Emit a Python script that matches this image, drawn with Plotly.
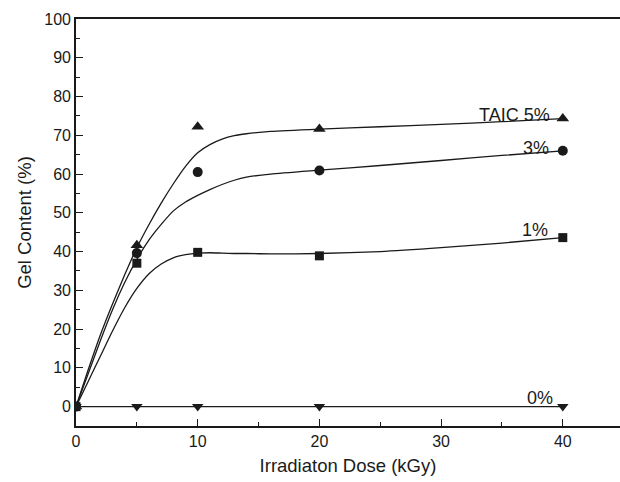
import plotly.graph_objects as go

# Measured data points
dose = [0, 5, 10, 20, 40]
taic5 = [0, 41.6, 72.2, 71.6, 74.3]
taic3 = [0, 39.6, 60.5, 60.9, 66.0]
taic1 = [0, 37.0, 39.8, 38.9, 43.6]
taic0 = [0, 0, 0, 0, 0]

# Fitted curves
fit_x = [0, 1, 2, 3, 4, 5, 6, 7, 8, 9, 10, 11, 12, 13, 14, 16, 20, 25, 30, 35, 40]
fit5 = [0, 9.5, 18.5, 26.5, 34, 41, 47, 52.5, 57.5, 62, 65.5, 67.6, 69, 69.9, 70.4, 71, 71.6, 72.2, 72.8, 73.5, 74.3]
fit3 = [0, 8.5, 17, 25, 32, 38, 43, 47, 50.5, 52.8, 54.5, 56, 57.3, 58.4, 59.2, 60, 61, 62.2, 63.5, 64.8, 66]
fit1 = [0, 6.5, 13, 19.5, 25.5, 30.5, 34.3, 36.8, 38.4, 39.2, 39.6, 39.7, 39.6, 39.5, 39.5, 39.4, 39.5, 40, 41, 42.2, 43.6]

labels = ["TAIC 5%", "3%", "1%", "0%"]
label_x = [36.0, 37.8, 37.7, 38.1]
label_y = [75.3, 66.8, 45.6, 2.2]

x_ticks = [0, 10, 20, 30, 40]
y_ticks = [0, 10, 20, 30, 40, 50, 60, 70, 80, 90, 100]

INK = "#1a1a1a"
FONT = "Liberation Sans, Arial, sans-serif"

fig = go.Figure()

for fy in (fit5, fit3, fit1):
    fig.add_trace(go.Scatter(x=fit_x, y=fy, mode="lines",
                             line=dict(color=INK, width=1.3, shape="spline", smoothing=0.6),
                             hoverinfo="skip", showlegend=False))

fig.add_trace(go.Scatter(x=dose, y=taic0, mode="lines+markers",
                         line=dict(color=INK, width=1.3),
                         marker=dict(symbol="triangle-down", size=10, color=INK),
                         showlegend=False))
fig.add_trace(go.Scatter(x=dose, y=taic1, mode="markers",
                         marker=dict(symbol="square", size=9, color=INK), showlegend=False))
fig.add_trace(go.Scatter(x=dose, y=taic3, mode="markers",
                         marker=dict(symbol="circle", size=10, color=INK), showlegend=False))
fig.add_trace(go.Scatter(x=dose, y=taic5, mode="markers",
                         marker=dict(symbol="triangle-up", size=11, color=INK), showlegend=False))

for t, lx, ly in zip(labels, label_x, label_y):
    fig.add_annotation(x=lx, y=ly, xref="x", yref="y", text=t, showarrow=False,
                       font=dict(family=FONT, size=18, color=INK))

fig.update_layout(
    width=620, height=482,
    margin=dict(l=76, r=0, t=19, b=56),
    paper_bgcolor="white", plot_bgcolor="white",
    font=dict(family=FONT, color=INK),
    showlegend=False,
)

fig.update_xaxes(
    range=[0, 44.7], tickvals=x_ticks, showgrid=False, zeroline=False,
    showline=True, linecolor=INK, linewidth=1.6, mirror=True,
    ticks="inside", ticklen=7, tickwidth=1.3, tickcolor=INK,
    minor=dict(dtick=5, tick0=0, ticks="inside", ticklen=4, tickwidth=1.2, tickcolor=INK, showgrid=False),
    tickfont=dict(family=FONT, size=16, color=INK),
    title=dict(text="Irradiaton Dose (kGy)", font=dict(family=FONT, size=18.5, color=INK), standoff=10),
)
fig.update_yaxes(
    range=[-5, 100], tickvals=y_ticks, showgrid=False, zeroline=False,
    showline=True, linecolor=INK, linewidth=1.6, mirror=False,
    ticks="inside", ticklen=7, tickwidth=1.3, tickcolor=INK,
    minor=dict(dtick=5, tick0=0, ticks="inside", ticklen=4, tickwidth=1.2, tickcolor=INK, showgrid=False),
    tickfont=dict(family=FONT, size=16, color=INK),
    title=dict(text="Gel Content (%)", font=dict(family=FONT, size=18.5, color=INK), standoff=8),
)

fig.write_html("out.html")
